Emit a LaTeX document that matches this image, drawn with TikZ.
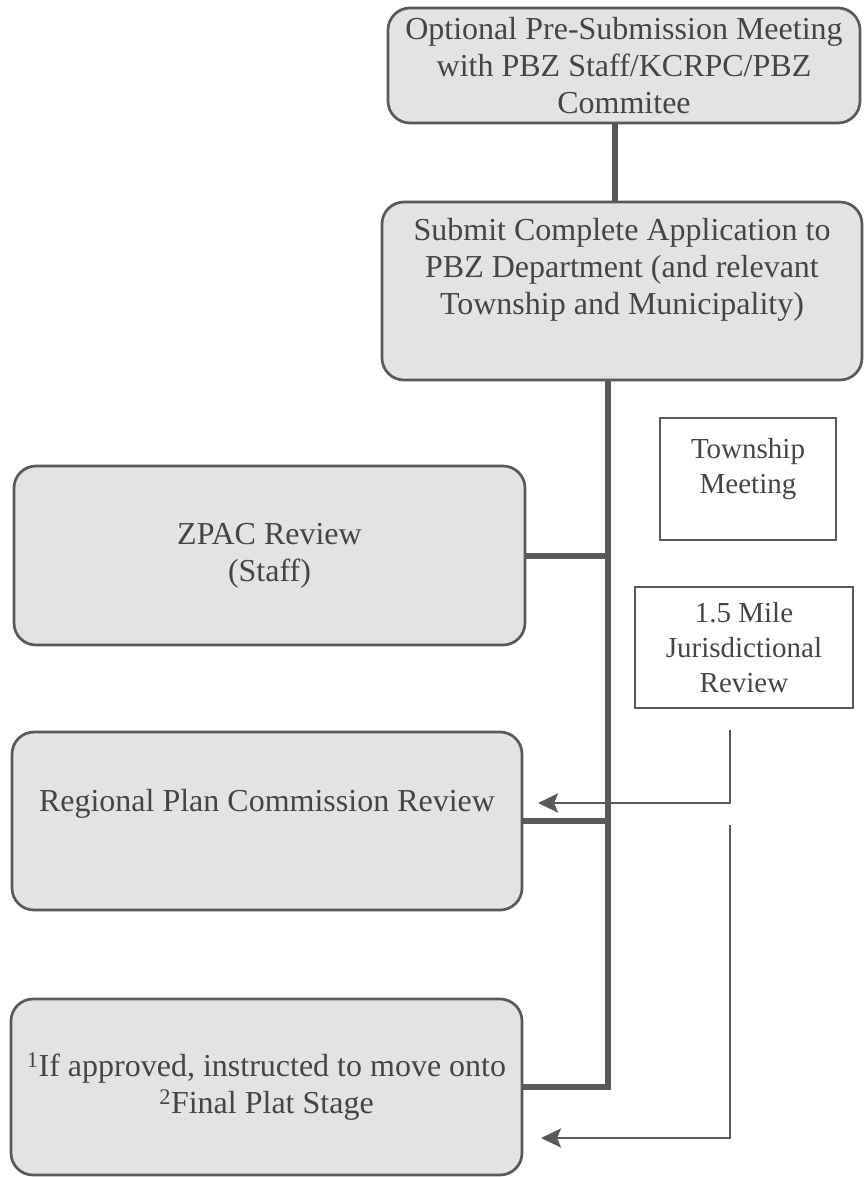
\documentclass[tikz,border=0pt]{standalone}
\usepackage{fontspec}
\setmainfont{Liberation Serif}
\usetikzlibrary{arrows.meta}
\definecolor{linegray}{HTML}{595959}
\definecolor{boxfill}{HTML}{E3E3E3}
\definecolor{textgray}{HTML}{454545}
\begin{document}
\begin{tikzpicture}[x=1pt,y=-1pt,
  stage/.style={draw=linegray,line width=2.7pt,fill=boxfill,rounded corners=22pt,align=center,
    text=textgray,font=\fontsize{32}{37}\selectfont,inner sep=0pt},
  side/.style={draw=linegray,line width=2.2pt,fill=white,align=center,
    text=textgray,font=\fontsize{29}{35}\selectfont,inner sep=0pt},
  trunk/.style={draw=linegray,line width=6pt},
  feed/.style={draw=linegray,line width=2.8pt,-{Stealth[length=20pt,width=19pt,inset=4pt]}}]
  \useasboundingbox (0,0) rectangle (866,1177);
  \node[stage,minimum width=472pt,minimum height=115pt] (meeting) at (624,65.5)
    {Optional Pre-Submission Meeting\\ with PBZ Staff/KCRPC/PBZ\\ Commitee};
  \node[stage,minimum width=480pt,minimum height=178pt] (submit) at (622,291)
    {Submit Complete Application to\\ PBZ Department (and relevant\\ Township and Municipality)\\[12pt]\mbox{}};
  \node[stage,minimum width=511pt,minimum height=179pt] (zpac) at (269.5,555.5)
    {ZPAC Review\\ (Staff)};
  \node[stage,minimum width=510pt,minimum height=178pt] (rpc) at (267,821)
    {Regional Plan Commission Review\\[4pt]\mbox{}};
  \node[stage,minimum width=511pt,minimum height=176pt] (final) at (266.5,1087)
    {\textsuperscript{1}If approved, instructed to move onto\\ \textsuperscript{2}Final Plat Stage};
  \node[side,minimum width=176pt,minimum height=122pt] (township) at (748,479)
    {Township\\ Meeting\\[-8pt]\mbox{}};
  \node[side,minimum width=218pt,minimum height=121pt] (mile) at (744,647.5)
    {1.5 Mile\\ Jurisdictional\\ Review};
  \coordinate (mileout) at (730,730);
  \coordinate (rpcin) at (538,803);
  \coordinate (mileout2) at (730,825);
  \coordinate (finalin) at (541,1138);
  \coordinate (trunkfoot) at (608,1087);
  \draw[feed] (mileout) |- (rpcin);
  \draw[feed] (mileout2) |- (finalin);
  \draw[trunk] ([xshift=-9pt]meeting.south) -- ([xshift=-7pt]submit.north);
  \draw[trunk] (submit.south -| trunkfoot) -- (trunkfoot) -- (final.east);
  \draw[trunk] (zpac.east) -- (zpac.east -| trunkfoot);
  \draw[trunk] (rpc.east) -- (rpc.east -| trunkfoot);
\end{tikzpicture}
\end{document}
